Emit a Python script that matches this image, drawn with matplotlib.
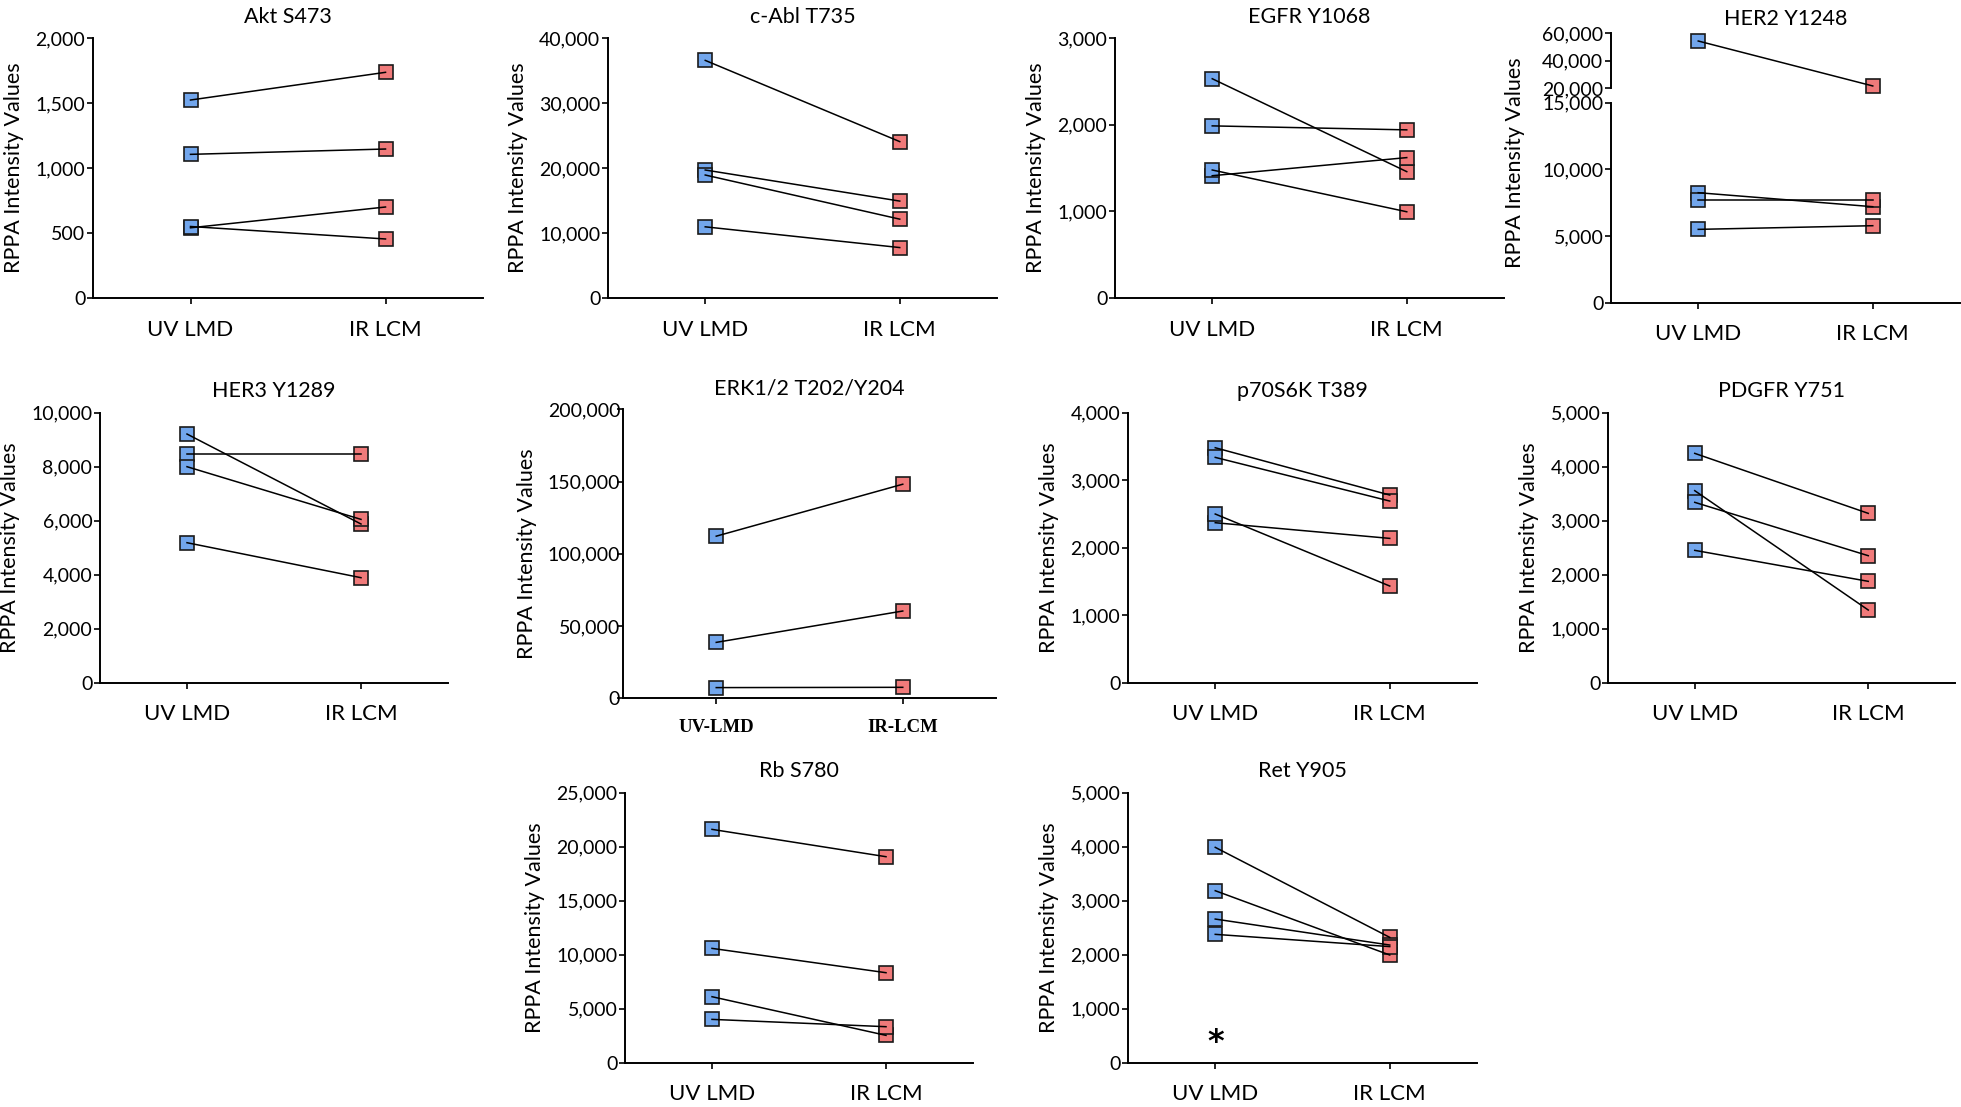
import matplotlib.pyplot as plt
from matplotlib.ticker import FuncFormatter

plt.rcParams["font.family"] = ["Lato", "DejaVu Sans"]

# values read per replicate: UV LMD and IR LCM, paired by index
groups = ["UV LMD", "IR LCM"]

akt_uv = [1523, 1105, 540, 550]
akt_ir = [1736, 1146, 700, 454]

abl_uv = [36555, 19690, 18920, 10950]
abl_ir = [24060, 14910, 12130, 7760]

egfr_uv = [2530, 1986, 1411, 1477]
egfr_ir = [1458, 1940, 1620, 995]

her2_uv = [54200, 8250, 7675, 5500]
her2_ir = [21700, 7200, 7675, 5775]

her3_uv = [9210, 8469, 8000, 5185]
her3_ir = [5877, 8469, 6049, 3889]

erk_uv = [112200, 38700, 7400]
erk_ir = [148150, 60400, 7600]
erk_groups = ["UV-LMD", "IR-LCM"]

p70_uv = [3481, 3338, 2370, 2499]
p70_ir = [2780, 2691, 2138, 1432]

pdgfr_uv = [4247, 3556, 3340, 2451]
pdgfr_ir = [3136, 1346, 2352, 1877]

rb_uv = [21605, 10586, 6111, 4012]
rb_ir = [19074, 8333, 2531, 3333]

ret_uv = [3988, 3185, 2660, 2377]
ret_ir = [2321, 1994, 2179, 2150]

W, H = 1961, 1107
BLUE = "#72a6ec"
RED = "#f07a7a"
thousands = FuncFormatter(lambda v, _: f"{v:,.0f}")


def px_axes(fig, x0, y0, x1, y1):
    return fig.add_axes([x0 / W, 1 - y1 / H, (x1 - x0) / W, (y1 - y0) / H])


def style(ax, ymax, step):
    for side in ("top", "right"):
        ax.spines[side].set_visible(False)
    for side in ("left", "bottom"):
        ax.spines[side].set_linewidth(1.4)
    ax.set_xlim(-0.5, 1.5)
    ax.set_ylim(0, ymax)
    ax.set_yticks(range(0, ymax + 1, step))
    ax.yaxis.set_major_formatter(thousands)
    ax.tick_params(axis="y", length=4, width=1.2, pad=1.5, labelsize=14)
    ax.tick_params(axis="x", length=4, width=1.2, pad=11.5, labelsize=16)
    ax.set_xticks([0, 1])
    ax.set_xticklabels(groups)
    ax.patch.set_alpha(0)


def draw_pairs(ax, uv, ir):
    for a, b in zip(uv, ir):
        ax.plot([0, 1], [a, b], color="black", linewidth=1.1, zorder=3,
                clip_on=False)
    ax.plot([0] * len(uv), uv, "s", markersize=9.5, markerfacecolor=BLUE,
            markeredgecolor="#1a1a1a", markeredgewidth=1.2, linestyle="none",
            zorder=2, clip_on=False)
    ax.plot([1] * len(ir), ir, "s", markersize=9.5, markerfacecolor=RED,
            markeredgecolor="#1a1a1a", markeredgewidth=1.2, linestyle="none",
            zorder=2, clip_on=False)


def panel(fig, box, title, uv, ir, ymax, step):
    ax = px_axes(fig, *box)
    style(ax, ymax, step)
    draw_pairs(ax, uv, ir)
    ax.set_title(title, fontsize=15.5, pad=11)
    ax.set_ylabel("RPPA Intensity Values", fontsize=15.5, labelpad=8)
    return ax


fig = plt.figure(figsize=(W / 100, H / 100), dpi=100)

panel(fig, (93, 38, 483, 298), "Akt S473", akt_uv, akt_ir, 2000, 500)
panel(fig, (608, 38, 997, 298), "c-Abl T735", abl_uv, abl_ir, 40000, 10000)
panel(fig, (1115, 38, 1504, 298), "EGFR Y1068", egfr_uv, egfr_ir, 3000, 1000)

# HER2 with broken y axis
her2_low = px_axes(fig, 1611, 102.7, 1960, 302.7)
style(her2_low, 15000, 5000)
draw_pairs(her2_low, her2_uv[1:], her2_ir[1:])
her2_low.set_ylabel("RPPA Intensity Values", fontsize=15.5)
her2_low.yaxis.set_label_coords(-0.245, 0.70)
her2_high = px_axes(fig, 1611, 33, 1960, 88.3)
her2_high.set_xlim(-0.5, 1.5)
her2_high.set_ylim(20000, 60000)
her2_high.set_yticks([20000, 40000, 60000])
her2_high.yaxis.set_major_formatter(thousands)
for side in ("top", "right", "bottom"):
    her2_high.spines[side].set_visible(False)
her2_high.spines["left"].set_linewidth(1.4)
her2_high.tick_params(axis="y", length=4, width=1.2, pad=1.5, labelsize=14)
her2_high.set_xticks([])
her2_high.patch.set_alpha(0)
draw_pairs(her2_high, her2_uv[:1], her2_ir[:1])
her2_high.set_title("HER2 Y1248", fontsize=15.5, pad=6)

panel(fig, (100, 412.7, 448, 682.7), "HER3 Y1289", her3_uv, her3_ir, 10000, 2000)

erk = panel(fig, (623, 409.3, 996, 698.3), "ERK1/2 T202/Y204", erk_uv, erk_ir,
            200000, 50000)
erk.set_xticklabels(erk_groups, family="Liberation Serif", fontweight="bold",
                    fontsize=13.5)
erk.tick_params(axis="x", pad=11)
erk.tick_params(axis="y", pad=-2)

panel(fig, (1128, 412.7, 1477, 682.7), "p70S6K T389", p70_uv, p70_ir, 4000, 1000)
panel(fig, (1608, 412.7, 1955, 682.7), "PDGFR Y751", pdgfr_uv, pdgfr_ir, 5000, 1000)

panel(fig, (625, 792.7, 973, 1062.7), "Rb S780", rb_uv, rb_ir, 25000, 5000)
ret = panel(fig, (1128, 792.7, 1477, 1062.7), "Ret Y905", ret_uv, ret_ir, 5000, 1000)
ret.text(0, 370, "*", ha="center", va="center", fontsize=23,
         family="DejaVu Sans", fontweight="bold")

fig.savefig("out.png", dpi=100)
